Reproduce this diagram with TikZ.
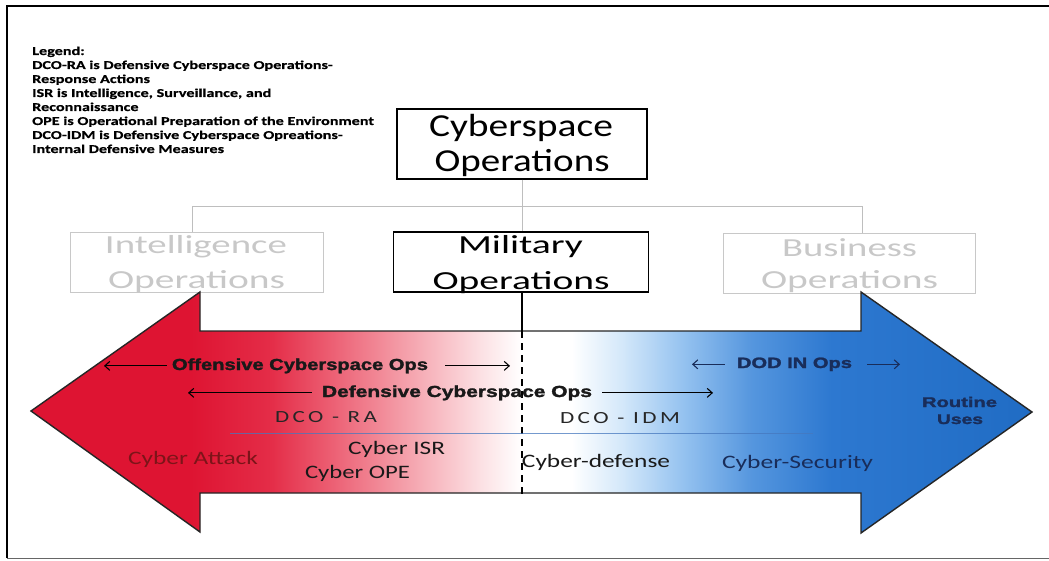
\documentclass[tikz,border=0pt]{standalone}
\usepackage{fontspec}
\usepackage{graphicx}
\setmainfont{Carlito}
\newfontfamily\legfont[FakeStretch=1.35, BoldFeatures={FakeBold=0.6}]{Carlito}
\newfontfamily\heavy[FakeBold=1.6]{Liberation Sans Bold}
\newfontfamily\spaced[LetterSpace=15]{Carlito}
\usetikzlibrary{arrows.meta,calc}

\definecolor{cred}{RGB}{222,20,50}
\definecolor{cr1}{RGB}{228,45,72}
\definecolor{cr2}{RGB}{236,95,115}
\definecolor{cr3}{RGB}{245,165,175}
\definecolor{cr4}{RGB}{252,225,228}
\definecolor{cb4}{RGB}{212,232,250}
\definecolor{cb3}{RGB}{150,195,240}
\definecolor{cb2}{RGB}{85,150,222}
\definecolor{cb1}{RGB}{45,120,208}
\definecolor{cblue}{RGB}{32,108,196}
\definecolor{ghostgray}{RGB}{200,200,200}
\definecolor{conngray}{RGB}{190,190,190}
\definecolor{navy}{RGB}{25,45,90}
\definecolor{darkred}{RGB}{125,20,25}
\definecolor{midline}{RGB}{70,120,190}

% red -> white -> blue across the double arrow
\pgfdeclarehorizontalshading{redwhiteblue}{100bp}{color(0bp)=(cred); color(25bp)=(cred); color(33bp)=(cred); color(37bp)=(cr1); color(40bp)=(cr2); color(44bp)=(cr3); color(47.5bp)=(cr4); color(49.5bp)=(white); color(52bp)=(white); color(54.5bp)=(cb4); color(57.5bp)=(cb3); color(61bp)=(cb2); color(65bp)=(cb1); color(75bp)=(cblue); color(100bp)=(cblue)}

% set a line of text to a given width, keeping its height
\newcommand{\fw}[2]{\resizebox{#1}{\height}{#2}}

\begin{document}
\begin{tikzpicture}[x=1pt,y=-1pt,
  box/.style={draw=black, line width=1.5pt, inner sep=0pt},
  ghost/.style={draw=ghostgray, line width=0.8pt, inner sep=0pt},
  conn/.style={draw=conngray, line width=1pt},
  lbl/.style={inner sep=0pt, anchor=base},
  legtxt/.style={inner sep=0pt, anchor=base west, font=\legfont\bfseries\fontsize{12}{14}\selectfont},
  sarr/.style={line width=1.1pt, -{Straight Barb[length=5pt,width=9pt]}},
]
\useasboundingbox (0,0) rectangle (1049,561);

% page frame
\draw[line width=2pt] (7,558) -- (7,6) -- (1049,6);
\draw[line width=0.8pt, black!60] (7,558.5) -- (1049,558.5);

% legend
\foreach \t [count=\i] in {{Legend:},
  {DCO-RA is Defensive Cyberspace Operations-},
  {Response Actions},
  {ISR is Intelligence, Surveillance, and},
  {Reconnaissance},
  {OPE is Operational Preparation of the Environment},
  {DCO-IDM is Defensive Cyberspace Opreations-},
  {Internal Defensive Measures}}
  \node[legtxt] (leg\i) at (32,{41+14*\i}) {\t};

% hierarchy boxes
\node[box, minimum width=250pt, minimum height=70pt] (cyber) at (522,144) {};
\node[box, minimum width=255pt, minimum height=60pt] (mil) at (521,262) {};
\node[ghost, minimum width=253pt, minimum height=60pt] (intel) at (196.5,262) {};
\node[ghost, minimum width=252pt, minimum height=60pt] (busi) at (849,263) {};

\node[lbl, font=\fontsize{32}{36}\selectfont] (cyberA) at (521,137) {\fw{184pt}{Cyberspace}};
\node[lbl, font=\fontsize{32}{36}\selectfont] (cyberB) at (522,172) {\fw{175pt}{Operations}};
\node[lbl, font=\fontsize{26}{30}\selectfont] (milA) at (520.5,254) {\fw{125pt}{Military}};
\node[lbl, font=\fontsize{26}{30}\selectfont] (milB) at (521,290) {\fw{177pt}{Operations}};
\node[lbl, text=ghostgray, font=\fontsize{26}{30}\selectfont] (intA) at (196,254) {\fw{182pt}{Intelligence}};
\node[lbl, text=ghostgray, font=\fontsize{26}{30}\selectfont] (intB) at (196.5,288) {\fw{177pt}{Operations}};
\node[lbl, text=ghostgray, font=\fontsize{26}{30}\selectfont] (busA) at (849.5,256) {\fw{135pt}{Business}};
\node[lbl, text=ghostgray, font=\fontsize{26}{30}\selectfont] (busB) at (849.5,289) {\fw{177pt}{Operations}};

% tree connectors
\coordinate (bar) at (0,207);
\coordinate (iN) at ([xshift=-4.5pt]intel.north);
\coordinate (bN) at ([xshift=13pt]busi.north);
\draw[conn] (iN) -- (iN |- bar) -| (bN);
\draw[conn] (cyber.south) -- (cyber.south |- mil.north);

% double arrow, offensive (red) to routine (blue)
\shadedraw[shading=redwhiteblue, draw=black!85, line width=1.4pt]
  (31,411) -- (200,292) -- (200,331) -- (861,331) -- (861,292) -- (1032,412)
  -- (861,533) -- (861,493) -- (200,493) -- (200,532) -- cycle;

% divider between offensive and defensive operations
\coordinate (dTop) at (522,331);
\coordinate (dBot) at (522,494);
\draw[line width=2pt] (mil.south -| dTop) -- (dTop);
\draw[line width=2.2pt, dash pattern=on 7pt off 5pt] (dTop) -- (dBot);

% thin rule under the DCO labels
\draw[midline, line width=0.8pt, opacity=0.75] (230,433) -- (813,433);

% operation spans
\node[lbl, text=black!90, font=\heavy\fontsize{16}{18}\selectfont] (off) at (300,370) {\fw{256pt}{Offensive Cyberspace Ops}};
\node[lbl, text=black!90, font=\heavy\fontsize{16}{18}\selectfont] (def) at (457,397) {\fw{270pt}{Defensive Cyberspace Ops}};
\node[lbl, text=navy, font=\heavy\fontsize{15}{18}\selectfont] (dod) at (794.5,368) {\fw{115pt}{DOD IN Ops}};
\node[lbl, text=navy, font=\heavy\fontsize{14}{16}\selectfont] (rou) at (959.5,407) {\fw{75pt}{Routine}};
\node[lbl, text=navy, font=\heavy\fontsize{14}{16}\selectfont] (use) at (960,424) {\fw{46pt}{Uses}};

\coordinate (offL) at (104,0);
\coordinate (offR) at (510,0);
\coordinate (defL) at (188,0);
\coordinate (defR) at (713,0);
\coordinate (dodL) at (692,0);
\coordinate (dodR) at (900,0);
\draw[sarr] ([xshift=-5pt]off.west) -- (off.west -| offL);
\draw[sarr] ([xshift=17pt]off.east) -- (off.east -| offR);
\draw[sarr] ([xshift=-10pt]def.west) -- (def.west -| defL);
\draw[sarr] ([xshift=10pt]def.east) -- (def.east -| defR);
\draw[sarr, navy] ([xshift=-12pt]dod.west) -- (dod.west -| dodL);
\draw[sarr, navy] ([xshift=15pt]dod.east) -- (dod.east -| dodR);

% response categories
\node[lbl, text=black!85, font=\spaced\fontsize{17}{18}\selectfont] (dcora) at (326,422) {\fw{102pt}{DCO - RA}};
\node[lbl, text=black!85, font=\spaced\fontsize{17}{18}\selectfont] (dcoidm) at (620,423) {\fw{120pt}{DCO - IDM}};

% activities
\node[lbl, text=darkred, font=\fontsize{19}{22}\selectfont] (atk) at (193,464) {\fw{130pt}{Cyber Attack}};
\node[lbl, text=black!90, font=\fontsize{19}{22}\selectfont] (isr) at (396.5,454) {\fw{97pt}{Cyber ISR}};
\node[lbl, text=black!90, font=\fontsize{19}{22}\selectfont] (ope) at (357.5,478) {\fw{105pt}{Cyber OPE}};
\node[lbl, text=black!90, font=\fontsize{19}{22}\selectfont] (cdef) at (596,467) {\fw{148pt}{Cyber-defense}};
\node[lbl, text=navy, font=\fontsize{19}{22}\selectfont] (csec) at (797.5,468) {\fw{151pt}{Cyber-Security}};
\end{tikzpicture}
\end{document}
